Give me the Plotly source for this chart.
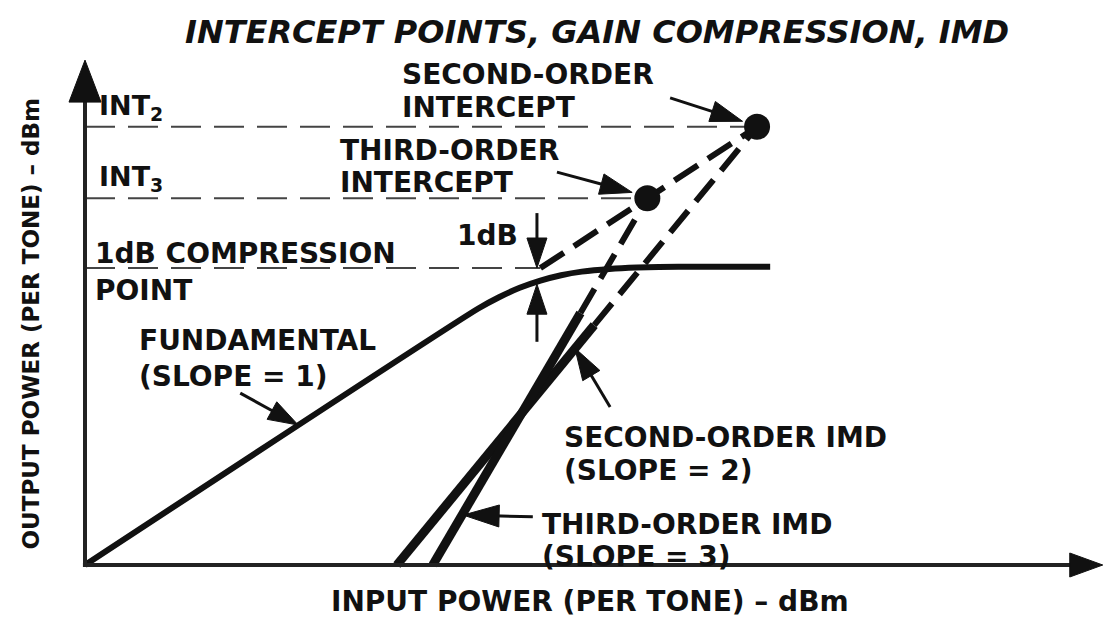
import plotly.graph_objects as go

# ---------------- data (dB units: input power, output power) ----------------
# Fundamental output vs input, slope 1 then compressing to saturation
fund_in = [0, 57, 60, 63, 66, 69, 72, 76, 80, 86, 99.3]
fund_out = [0, 57, 59.5, 61.6, 63.2, 64.4, 65.2, 65.8, 66.1, 66.3, 66.3]

# Small-signal extrapolation of the fundamental (slope 1)
fund_ext_in = [66, 81.5, 97.4]
fund_ext_out = [66, 81.5, 97.4]

# Second-order IMD: measured part, then extrapolation to the intercept
imd2_in = [45.2, 73.8, 97.4]
imd2_out = [0, 53.3, 97.4]

# Third-order IMD: measured part, then extrapolation to the intercept
imd3_in = [50.4, 71.8, 81.5]
imd3_out = [0, 56.0, 81.5]

# Intercept points and 1 dB compression point
int2_in, int2_out = 97.4, 97.4
int3_in, int3_out = 81.5, 81.5
p1db_in, p1db_out = 66.0, 66.0
p1db_actual = 62.4

# ---------------- layout geometry ----------------
W, H = 1104, 617
SX, SY = 6.9, 4.5          # pixels per dB along x and y
ORIGIN_PX = (85, 565)
x_rng = [-ORIGIN_PX[0] / SX, (W - ORIGIN_PX[0]) / SX]
y_rng = [-(H - ORIGIN_PX[1]) / SY, ORIGIN_PX[1] / SY]

X_AXIS_END, Y_AXIS_END = 147.5, 112.2

INK = "#111111"
FONT = "DejaVu Sans"

fig = go.Figure()

# horizontal reference levels (dashed, thin)
for lvl_x, lvl_y in [(int2_in, int2_out), (int3_in, int3_out), (p1db_in, p1db_out)]:
    fig.add_trace(go.Scatter(x=[0, lvl_x], y=[lvl_y, lvl_y], mode="lines",
                             line=dict(color="#444444", width=2, dash="30px,13px"),
                             hoverinfo="skip"))

# extrapolated lines (thick dashes)
thick_dash = dict(color=INK, width=6, dash="28px,12px")
fig.add_trace(go.Scatter(x=fund_ext_in, y=fund_ext_out, mode="lines", line=thick_dash))
fig.add_trace(go.Scatter(x=imd2_in[1:], y=imd2_out[1:], mode="lines", line=thick_dash))
fig.add_trace(go.Scatter(x=imd3_in[1:], y=imd3_out[1:], mode="lines", line=thick_dash))

# measured curves (solid)
fig.add_trace(go.Scatter(x=fund_in, y=fund_out, mode="lines",
                         line=dict(color=INK, width=6, shape="spline", smoothing=0.6)))
fig.add_trace(go.Scatter(x=imd2_in[:2], y=imd2_out[:2], mode="lines",
                         line=dict(color=INK, width=9)))
fig.add_trace(go.Scatter(x=imd3_in[:2], y=imd3_out[:2], mode="lines",
                         line=dict(color=INK, width=9)))

# intercept points
fig.add_trace(go.Scatter(x=[int2_in, int3_in], y=[int2_out, int3_out], mode="markers",
                         marker=dict(color=INK, size=26)))

shapes = []


def arrow(tip, tail, length_px=30, width_px=19, shaft=3):
    """Filled arrowhead at `tip` with a straight shaft back to `tail`."""
    tx, ty = tip
    ax, ay = tail
    dxp, dyp = (tx - ax) * SX, (ty - ay) * SY
    n = (dxp ** 2 + dyp ** 2) ** 0.5
    ux, uy = dxp / n, dyp / n
    bx, by = -ux * length_px, -uy * length_px
    nx, ny = -uy * width_px / 2, ux * width_px / 2
    p2 = (tx + (bx + nx) / SX, ty + (by + ny) / SY)
    p3 = (tx + (bx - nx) / SX, ty + (by - ny) / SY)
    base = (tx + bx * 0.8 / SX, ty + by * 0.8 / SY)
    if shaft:
        shapes.append(dict(type="line", xref="x", yref="y", x0=ax, y0=ay,
                           x1=base[0], y1=base[1], line=dict(color=INK, width=shaft)))
    shapes.append(dict(type="path", xref="x", yref="y",
                       path=f"M{tx},{ty} L{p2[0]},{p2[1]} L{p3[0]},{p3[1]} Z",
                       fillcolor=INK, line=dict(color=INK, width=1)))


# axes with arrowheads
shapes.append(dict(type="line", xref="x", yref="y", x0=-0.3, y0=0, x1=X_AXIS_END - 4, y1=0,
                   line=dict(color="#222222", width=4)))
shapes.append(dict(type="line", xref="x", yref="y", x0=0, y0=-0.3, x1=0, y1=Y_AXIS_END - 8,
                   line=dict(color="#222222", width=4)))
arrow((X_AXIS_END, 0), (0, 0), length_px=33, width_px=24, shaft=0)
arrow((0, Y_AXIS_END), (0, 0), length_px=42, width_px=32, shaft=0)

# pointer arrows
arrow((95.3, 98.6), (84.8, 103.8), 32, 21)          # second-order intercept
arrow((79.3, 82.8), (68.4, 87.3), 32, 21)           # third-order intercept
arrow((p1db_in - 0.5, p1db_out), (p1db_in - 0.5, 78.2), 30, 20)      # 1 dB, from above
arrow((p1db_in - 0.5, p1db_actual), (p1db_in - 0.5, 49.6), 30, 20)  # 1 dB, from below
arrow((30.9, 31.1), (22.5, 38.2), 30, 20)           # fundamental
arrow((71.0, 48.2), (76.1, 35.1), 32, 20)           # second-order IMD
arrow((54.8, 11.1), (64.9, 10.7), 36, 22)           # third-order IMD

annotations = []


def label(text, x, y, size=28, **kw):
    annotations.append(dict(text=text, x=x, y=y, xref="x", yref="y", showarrow=False,
                            xanchor=kw.pop("xanchor", "left"), yanchor="middle",
                            font=dict(family=FONT, size=size, color=INK, weight="bold"),
                            **kw))


label("INT<sub>2</sub>", 1.74, 101.6, size=27)
label("INT<sub>3</sub>", 1.74, 85.8, size=27)
label("SECOND-ORDER", 45.65, 108.9)
label("INTERCEPT", 45.65, 101.6)
label("THIRD-ORDER", 36.7, 92.2)
label("INTERCEPT", 36.7, 85.1)
label("1dB", 53.6, 73.3)
label("1dB COMPRESSION", 1.16, 69.3)
label("POINT", 1.16, 60.9)
label("FUNDAMENTAL", 7.5, 50.0)
label("(SLOPE = 1)", 7.5, 41.8)
label("SECOND-ORDER IMD", 69.1, 28.4)
label("(SLOPE = 2)", 69.1, 20.9)
label("THIRD-ORDER IMD", 65.9, 9.1)
label("(SLOPE = 3)", 65.9, 2.0)
label("INPUT POWER (PER TONE) – dBm", 73.2, -8.0, xanchor="center")
label("OUTPUT POWER (PER TONE) – dBm", -7.8, 53.5, size=23, xanchor="center",
      textangle=-90)
annotations.append(dict(text="INTERCEPT POINTS, GAIN COMPRESSION, IMD", x=74.2, y=118.4,
                        xref="x", yref="y", showarrow=False, xanchor="center", yanchor="middle",
                        font=dict(family=FONT, size=32, color=INK, weight="bold",
                                  style="italic")))

fig.update_layout(
    width=W, height=H,
    margin=dict(l=0, r=0, t=0, b=0),
    paper_bgcolor="white", plot_bgcolor="white",
    showlegend=False,
    xaxis=dict(range=x_rng, visible=False, fixedrange=True),
    yaxis=dict(range=y_rng, visible=False, fixedrange=True),
    shapes=shapes,
    annotations=annotations,
)

fig.write_html("out.html")
